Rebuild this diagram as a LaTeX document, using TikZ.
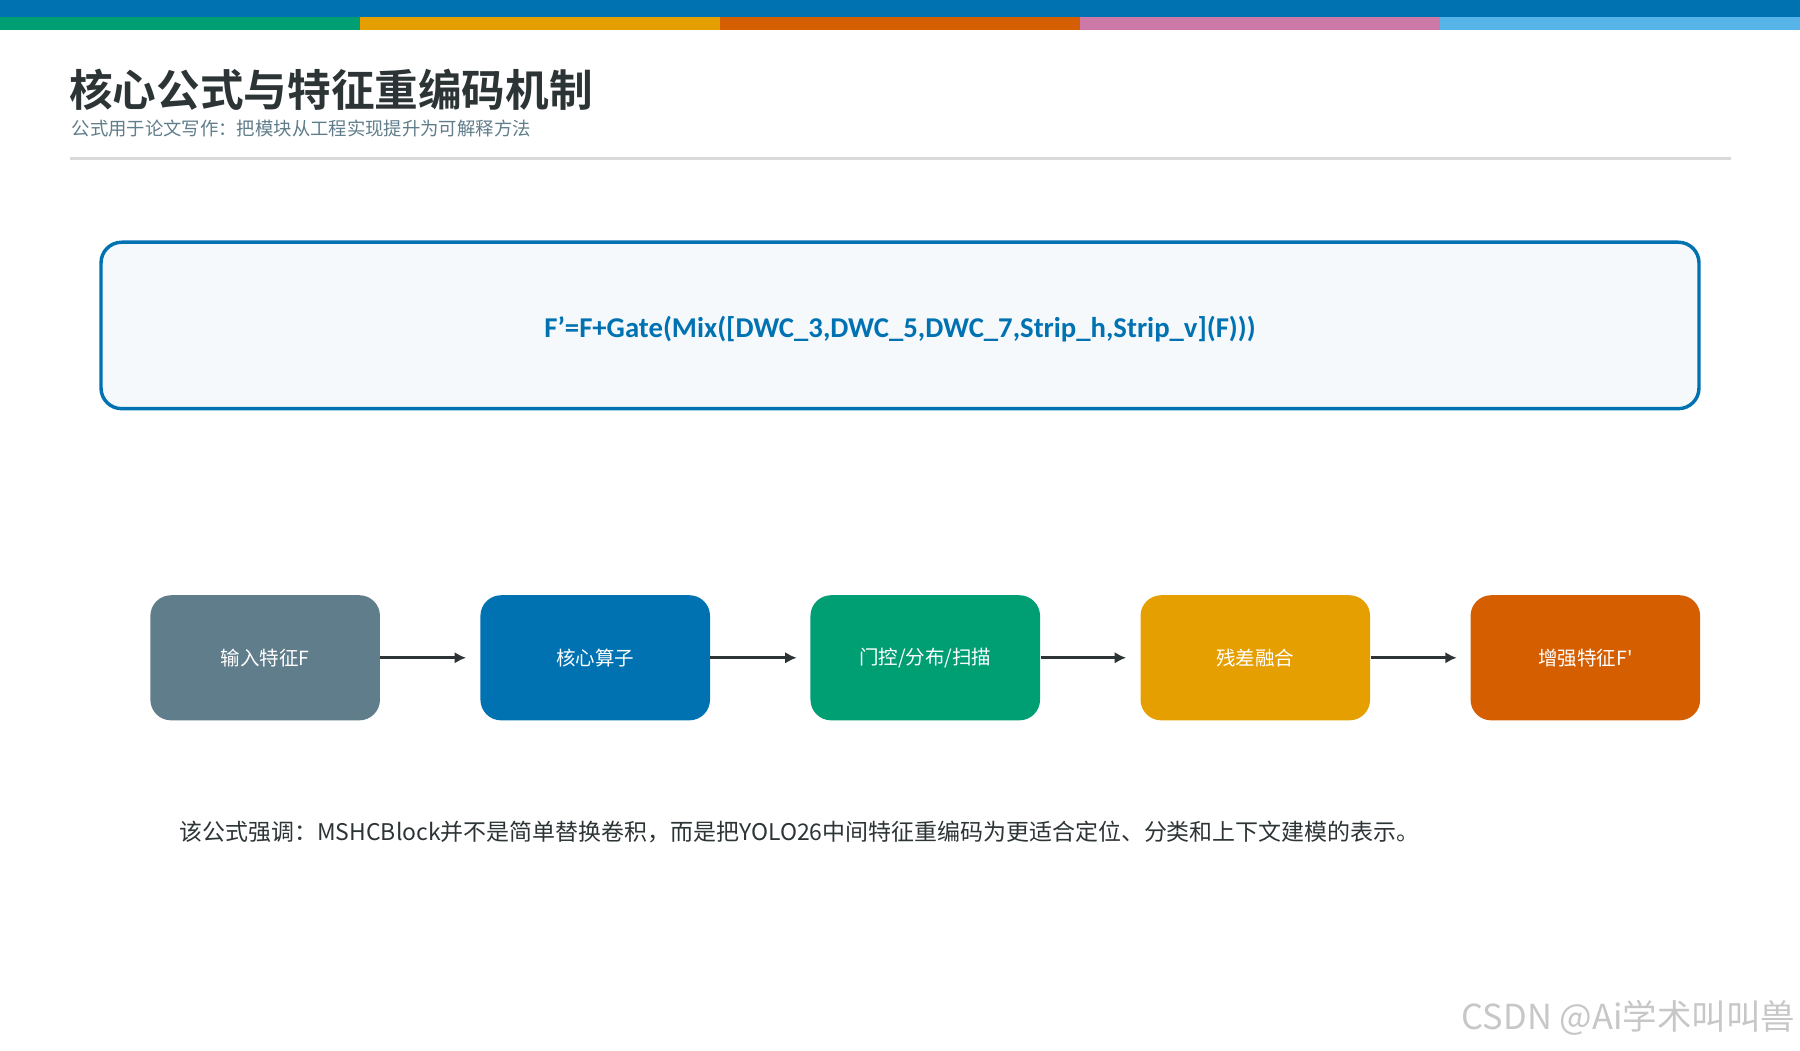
\documentclass[tikz,border=0pt]{standalone}
\usepackage{fontspec}
\setmainfont{Carlito}
\newfontfamily\cjk{Noto Sans CJK SC}
\newfontfamily\cjkb{Noto Sans CJK SC Bold}
\definecolor{cblue}{HTML}{0072B2}
\definecolor{cgreen}{HTML}{009E73}
\definecolor{corange}{HTML}{E69F00}
\definecolor{cverm}{HTML}{D55E00}
\definecolor{cpink}{HTML}{CC79A7}
\definecolor{csky}{HTML}{56B4E9}
\definecolor{cgray}{HTML}{607D8B}
\definecolor{ctext}{HTML}{2D3436}
\tikzset{
 stage/.style={rounded corners=9pt,minimum width=100pt,minimum height=54.5pt,text=white,font=\cjk\fontsize{8.5pt}{10pt}\selectfont,inner sep=0},
 arr/.style={-{Latex[length=5pt,width=5pt]},line width=1.3pt,draw=ctext},
}
\usetikzlibrary{arrows.meta}
\begin{document}
\begin{tikzpicture}[x=0.5pt,y=-0.5pt]
\useasboundingbox (0,0) rectangle (1568,915);
\fill[white] (0,0) rectangle (1568,915);
\fill[cblue] (0,0) rectangle (1568,15);
\fill[cgreen] (0,15) rectangle (314,26);
\fill[corange] (314,15) rectangle (627,26);
\fill[cverm] (627,15) rectangle (941,26);
\fill[cpink] (941,15) rectangle (1254,26);
\fill[csky] (1254,15) rectangle (1568,26);
\node[anchor=west,inner sep=0,text=ctext,font=\cjkb\fontsize{19pt}{22pt}\selectfont] (title) at (60,78) {核心公式与特征重编码机制};
\node[anchor=west,inner sep=0,text=cgray,font=\cjk\fontsize{8pt}{10pt}\selectfont] (sub) at (62,112) {公式用于论文写作：把模块从工程实现提升为可解释方法};
\draw[black!15,line width=1pt] (61,138) -- (1508,138);
\node[draw=cblue,line width=1.5pt,fill=cblue!4,rounded corners=9pt,minimum width=696pt,minimum height=72.5pt] (fbox) at (784,283.5) {};
\node[text=cblue,font=\bfseries\fontsize{12.5pt}{15pt}\selectfont] (formula) at (784,287) {F'=F+Gate(Mix([DWC\_3,DWC\_5,DWC\_7,Strip\_h,Strip\_v](F)))};
\node[stage,fill=cgray] (s1) at (231,573) {输入特征F};
\node[stage,fill=cblue] (s2) at (518.5,573) {核心算子};
\node[stage,fill=cgreen] (s3) at (806,573) {门控/分布/扫描};
\node[stage,fill=corange] (s4) at (1093.5,573) {残差融合};
\node[stage,fill=cverm] (s5) at (1381,573) {增强特征F'};
\coordinate (e1) at (406,573);
\coordinate (e2) at (694,573);
\coordinate (e3) at (981,573);
\coordinate (e4) at (1269,573);
\draw[arr] (s1.east) -- (e1);
\draw[arr] (s2.east) -- (e2);
\draw[arr] (s3.east) -- (e3);
\draw[arr] (s4.east) -- (e4);
\node[anchor=west,inner sep=0,text=ctext,font=\cjk\fontsize{10pt}{12pt}\selectfont] (note) at (156,725) {该公式强调：MSHCBlock并不是简单替换卷积，而是把YOLO26中间特征重编码为更适合定位、分类和上下文建模的表示。};
\node[anchor=east,inner sep=0,text=black!22,font=\cjk\fontsize{15pt}{18pt}\selectfont] (wm) at (1564,887) {CSDN @Ai学术叫叫兽};
\end{tikzpicture}
\end{document}
